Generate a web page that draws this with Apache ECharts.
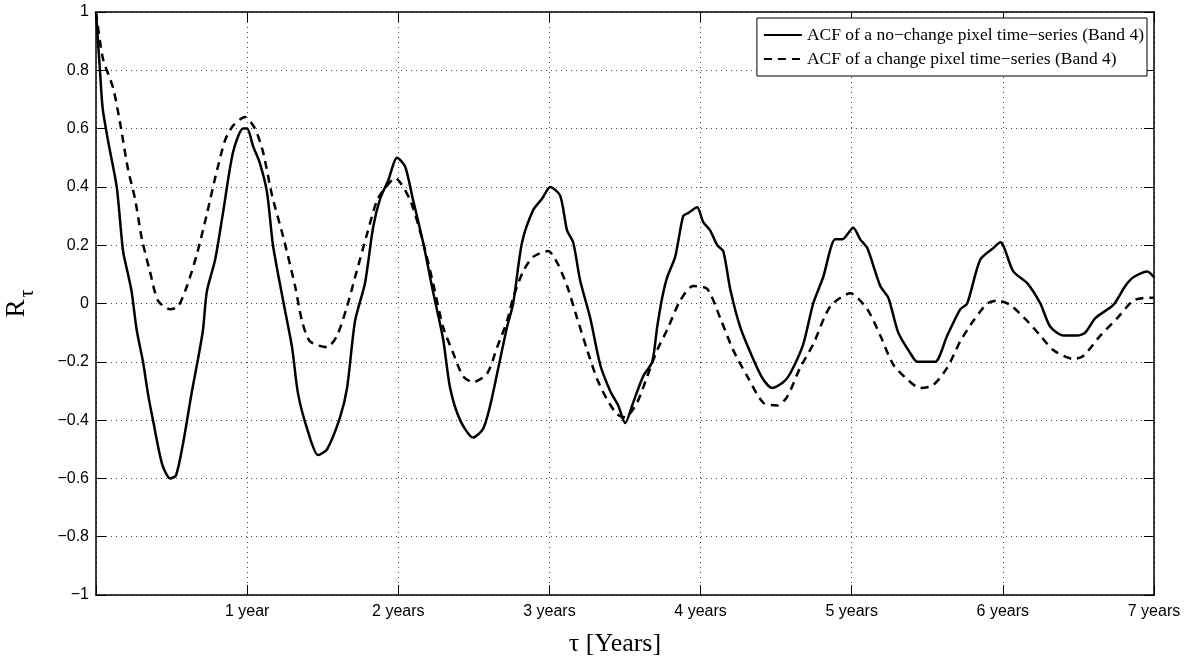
<!DOCTYPE html>
<html>
<head>
<meta charset="utf-8">
<script src="https://cdn.jsdelivr.net/npm/echarts@6/dist/echarts.min.js"></script>
<style>
html,body{margin:0;padding:0;background:#fff;}
#chart{width:1197px;height:659px;}
</style>
</head>
<body>
<div id="chart"></div>
<script>
// ---- data (tau in years, R_tau) ----
const noChangeTau = [0,0.026,0.044,0.079,0.137,0.179,0.212,0.236,0.269,0.311,0.344,0.377,0.437,0.490,0.529,0.576,0.635,0.675,0.708,0.733,0.788,0.840,0.907,0.973,1.000,1.039,1.085,1.132,1.171,1.238,1.297,1.337,1.403,1.469,1.529,1.615,1.661,1.714,1.780,1.833,1.880,1.932,1.992,2.045,2.098,2.164,2.230,2.296,2.343,2.409,2.495,2.561,2.608,2.654,2.720,2.760,2.819,2.892,2.952,3.005,3.071,3.117,3.157,3.203,3.270,3.336,3.402,3.455,3.501,3.554,3.620,3.680,3.713,3.746,3.779,3.832,3.885,3.918,3.977,4.017,4.064,4.110,4.150,4.196,4.262,4.348,4.414,4.474,4.547,4.593,4.679,4.745,4.811,4.891,4.937,5.010,5.056,5.103,5.189,5.242,5.308,5.387,5.434,5.500,5.553,5.632,5.718,5.764,5.850,5.936,5.983,6.069,6.161,6.248,6.314,6.400,6.492,6.545,6.612,6.731,6.810,6.863,6.955,7.000];
const noChangeR = [1.00,0.80,0.67,0.56,0.40,0.18,0.10,0.04,-0.09,-0.20,-0.31,-0.40,-0.55,-0.60,-0.59,-0.48,-0.30,-0.19,-0.09,0.04,0.15,0.31,0.52,0.60,0.60,0.54,0.48,0.38,0.20,0.01,-0.15,-0.31,-0.44,-0.52,-0.50,-0.39,-0.29,-0.06,0.07,0.26,0.36,0.42,0.50,0.47,0.355,0.21,0.04,-0.12,-0.29,-0.40,-0.46,-0.43,-0.35,-0.24,-0.08,0.00,0.21,0.32,0.36,0.40,0.37,0.25,0.21,0.08,-0.05,-0.21,-0.30,-0.35,-0.41,-0.34,-0.25,-0.20,-0.08,0.02,0.09,0.16,0.30,0.31,0.33,0.28,0.25,0.20,0.18,0.05,-0.08,-0.19,-0.26,-0.29,-0.27,-0.24,-0.14,0.00,0.09,0.22,0.22,0.26,0.22,0.19,0.06,0.02,-0.10,-0.17,-0.20,-0.20,-0.20,-0.11,-0.02,0.00,0.15,0.19,0.21,0.11,0.07,0.00,-0.08,-0.11,-0.11,-0.10,-0.05,-0.005,0.06,0.09,0.11,0.09];

const changeTau = [0,0.046,0.113,0.159,0.212,0.258,0.304,0.357,0.410,0.490,0.543,0.602,0.668,0.735,0.788,0.854,0.907,0.986,1.052,1.105,1.165,1.238,1.317,1.363,1.416,1.529,1.595,1.661,1.714,1.794,1.860,1.919,1.979,2.078,2.164,2.230,2.296,2.363,2.429,2.495,2.588,2.654,2.720,2.760,2.826,2.892,2.991,3.051,3.117,3.183,3.250,3.316,3.382,3.448,3.501,3.580,3.647,3.713,3.779,3.865,3.951,4.044,4.130,4.216,4.309,4.414,4.507,4.573,4.659,4.745,4.858,4.990,5.103,5.189,5.275,5.367,5.453,5.539,5.632,5.718,5.804,5.897,5.963,6.049,6.161,6.248,6.334,6.466,6.532,6.645,6.757,6.863,6.955,7.000];
const changeR = [1.00,0.84,0.74,0.62,0.46,0.36,0.22,0.11,0.01,-0.02,-0.01,0.06,0.17,0.31,0.43,0.56,0.61,0.64,0.60,0.52,0.37,0.23,0.06,-0.06,-0.13,-0.15,-0.11,-0.01,0.09,0.24,0.355,0.40,0.43,0.355,0.21,0.07,-0.08,-0.17,-0.25,-0.27,-0.24,-0.15,-0.06,0.02,0.11,0.16,0.18,0.14,0.06,-0.05,-0.16,-0.26,-0.33,-0.38,-0.39,-0.34,-0.25,-0.16,-0.09,0.01,0.06,0.05,-0.05,-0.16,-0.25,-0.34,-0.35,-0.32,-0.22,-0.14,-0.01,0.035,-0.02,-0.11,-0.21,-0.26,-0.29,-0.28,-0.22,-0.13,-0.06,0.00,0.01,-0.005,-0.06,-0.11,-0.16,-0.19,-0.18,-0.11,-0.05,0.01,0.02,0.02];

const xTickLabels = ['', '1 year', '2 years', '3 years', '4 years', '5 years', '6 years', '7 years'];
const seriesNames = ['ACF of a no\u2212change pixel time\u2212series (Band 4)', 'ACF of a change pixel time\u2212series (Band 4)'];

const zip = (a, b) => a.map((t, i) => [t, b[i]]);

const chart = echarts.init(document.getElementById('chart'), null, {renderer: 'canvas'});
const labelFont = {fontFamily: 'Liberation Sans, Arial, sans-serif', fontSize: 16, color: '#000'};
const serif = 'Liberation Serif, Times New Roman, serif';
const gridDots = {show: true, lineStyle: {color: '#444', width: 1, type: [1, 4]}};

chart.setOption({
  animation: false,
  backgroundColor: '#fff',
  grid: {left: 96, top: 12, right: 43, bottom: 64, show: false, containLabel: false, outerBoundsMode: 'none'},
  legend: {
    right: 50, top: 18, orient: 'vertical',
    backgroundColor: '#fff', borderColor: '#000', borderWidth: 1,
    padding: [8, 3, 8, 6], itemGap: 6, itemWidth: 38, itemHeight: 17,
    itemStyle: {opacity: 0},
    textStyle: {fontFamily: serif, fontSize: 17.5, color: '#000'},
    data: seriesNames
  },
  xAxis: [{
    type: 'value', min: 0, max: 7, interval: 1, position: 'bottom',
    name: '\u03c4 [Years]', nameLocation: 'middle', nameGap: 36,
    nameTextStyle: {fontFamily: serif, fontSize: 26, color: '#000', padding: [0, 20, 0, 0]},
    axisLine: {show: true, onZero: false, lineStyle: {color: '#000', width: 1.5}},
    axisTick: {show: true, inside: true, length: 10, lineStyle: {color: '#000'}},
    axisLabel: Object.assign({margin: 9, formatter: (v) => xTickLabels[Math.round(v)] || ''}, labelFont),
    splitLine: gridDots
  }, {
    type: 'value', min: 0, max: 7, interval: 1, position: 'top',
    axisLine: {show: true, onZero: false, lineStyle: {color: '#000', width: 1.5}},
    axisTick: {show: true, inside: true, length: 10, lineStyle: {color: '#000'}},
    axisLabel: {show: false}, splitLine: {show: false}
  }],
  yAxis: [{
    type: 'value', min: -1, max: 1, interval: 0.2, position: 'left',
    name: '{r|R}{s|\u03c4}', nameLocation: 'middle', nameGap: 58, nameRotate: 90,
    nameTextStyle: {
      padding: [0, 0, 0, 0],
      rich: {
        r: {fontFamily: serif, fontSize: 27, color: '#000', lineHeight: 42, verticalAlign: 'middle'},
        s: {fontFamily: serif, fontSize: 20, color: '#000', lineHeight: 42, verticalAlign: 'bottom', padding: [0, 0, 0, 2]}
      }
    },
    axisLine: {show: true, onZero: false, lineStyle: {color: '#000', width: 1.5}},
    axisTick: {show: true, inside: true, length: 10, lineStyle: {color: '#000'}},
    axisLabel: Object.assign({margin: 7, formatter: (v) => {
      const s = (Math.round(v * 10) / 10).toString();
      return s.replace('-', '\u2212');
    }}, labelFont),
    splitLine: gridDots
  }, {
    type: 'value', min: -1, max: 1, interval: 0.2, position: 'right',
    axisLine: {show: true, onZero: false, lineStyle: {color: '#000', width: 1.5}},
    axisTick: {show: true, inside: true, length: 10, lineStyle: {color: '#000'}},
    axisLabel: {show: false}, splitLine: {show: false}
  }],
  series: [{
    name: seriesNames[0], type: 'line', xAxisIndex: 0, yAxisIndex: 0,
    data: zip(noChangeTau, noChangeR), symbol: 'none', smooth: 0.25,
    lineStyle: {color: '#000', width: 2.5, type: 'solid'}, itemStyle: {color: '#000'}
  }, {
    name: seriesNames[1], type: 'line', xAxisIndex: 0, yAxisIndex: 0,
    data: zip(changeTau, changeR), symbol: 'none', smooth: 0.25,
    lineStyle: {color: '#000', width: 2.5, type: [8, 6]}, itemStyle: {color: '#000'}
  }]
});
</script>
</body>
</html>
